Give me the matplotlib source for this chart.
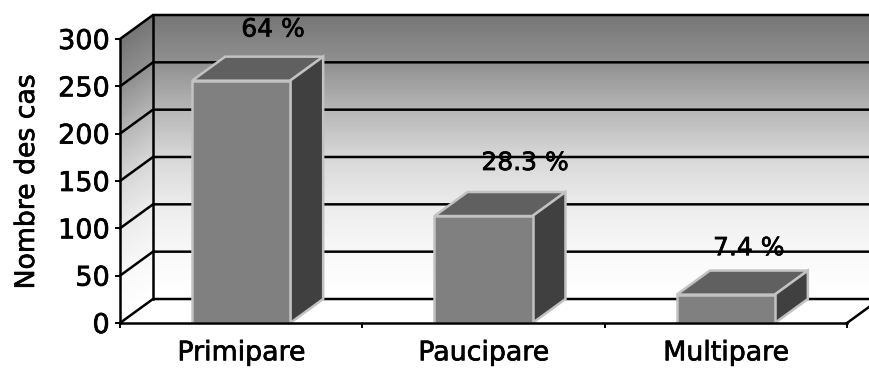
import numpy as np
import matplotlib
matplotlib.use('Agg')
import matplotlib.pyplot as plt
import matplotlib.patheffects as pe
from matplotlib.patches import Polygon

categories = ['Primipare', 'Paucipare', 'Multipare']
cases = [256, 113, 30]
percent_labels = ['64 %', '28.3 %', '7.4 %']
y_ticks = [0, 50, 100, 150, 200, 250, 300]

W, H = 869, 368
DEPTH_X = 33 / 242.33   # depth offset in x data units
DEPTH_Y = 24 / 284 * 300  # depth offset in y data units
BAR_W = 98 / 242.33
BLACK_LW = 1.8

# the reference font is a bit heavier than DejaVu regular
heavy = [pe.withStroke(linewidth=0.5, foreground='black')]

fig = plt.figure(figsize=(W / 100, H / 100), dpi=100)
ax = fig.add_axes([120 / W, (H - 323) / H, 727 / W, 284 / H])
ax.set_xlim(0, 3)
ax.set_ylim(0, 300)

# wall gradient
levels = np.linspace(0, 300, 151)
shade = np.interp(levels, [0, 50, 100, 150, 200, 250, 300], [1.0, 0.97, 0.92, 0.84, 0.71, 0.56, 0.46])
cmap = plt.get_cmap('gray')
grad = shade[:-1].reshape(-1, 1)

# back wall
bx = np.array([[DEPTH_X, 3 + DEPTH_X]] * len(levels))
by = np.column_stack([levels + DEPTH_Y, levels + DEPTH_Y])
ax.pcolormesh(bx, by, grad, cmap=cmap, vmin=0, vmax=1, clip_on=False, zorder=1)

# left wall
lx = np.array([[0, DEPTH_X]] * len(levels))
ly = np.column_stack([levels, levels + DEPTH_Y])
ax.pcolormesh(lx, ly, grad, cmap=cmap, vmin=0, vmax=1, clip_on=False, zorder=1)

# grid lines on both walls
for v in y_ticks:
    ax.plot([0, DEPTH_X, 3 + DEPTH_X], [v, v + DEPTH_Y, v + DEPTH_Y], color='black',
            lw=BLACK_LW, clip_on=False, zorder=2, solid_joinstyle='miter')
ax.plot([DEPTH_X, DEPTH_X], [DEPTH_Y, 300 + DEPTH_Y], color='black', lw=BLACK_LW, clip_on=False, zorder=2)
ax.plot([3, 3 + DEPTH_X], [0, DEPTH_Y], color='black', lw=BLACK_LW, clip_on=False, zorder=2)

# bars, three faces each
edge = '#c2c2c2'
for i, v in enumerate(cases):
    l = i + 0.5 - BAR_W / 2
    r = i + 0.5 + BAR_W / 2
    ax.add_patch(Polygon([(l, 0), (r, 0), (r, v), (l, v)], fc='#808080', ec=edge, lw=1.8, zorder=4, joinstyle='miter'))
    ax.add_patch(Polygon([(l, v), (r, v), (r + DEPTH_X, v + DEPTH_Y), (l + DEPTH_X, v + DEPTH_Y)],
                         fc='#606060', ec=edge, lw=1.8, zorder=3, joinstyle='miter'))
    ax.add_patch(Polygon([(r, 0), (r + DEPTH_X, DEPTH_Y), (r + DEPTH_X, v + DEPTH_Y), (r, v)],
                         fc='#404040', ec=edge, lw=1.8, zorder=3, joinstyle='miter'))

# percent labels, they are not all in the same place over the bars
label_dx = [0.132, 0.172, 0.095]
label_dy = [54, 56, 49]
for i, v in enumerate(cases):
    ax.text(i + 0.5 + label_dx[i], v + label_dy[i], percent_labels[i], ha='center', va='center',
            fontsize=18, color='black', zorder=5, clip_on=False, path_effects=heavy)

for s in ['top', 'right']:
    ax.spines[s].set_visible(False)
for s in ['left', 'bottom']:
    ax.spines[s].set_linewidth(BLACK_LW)
    ax.spines[s].set_zorder(6)

ax.set_yticks(y_ticks)
ax.set_xticks([0, 1, 2, 3])
ax.set_xticklabels([])
ax.tick_params(axis='both', length=3.5, width=1.4, labelsize=19.5, pad=4)
for t in ax.get_yticklabels():
    t.set_path_effects(heavy)
for i, c in enumerate(categories):
    ax.text(i + 0.5, -32, c, ha='center', va='center', fontsize=19.3, clip_on=False, path_effects=heavy)
ax.text(27 / W, (H - 182) / H, 'Nombre des cas', rotation=90, ha='center', va='center',
        fontsize=19.2, transform=fig.transFigure, path_effects=heavy)

fig.savefig('out.png', dpi=100)
